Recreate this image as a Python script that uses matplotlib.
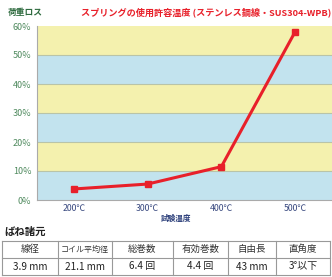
import matplotlib
matplotlib.use("Agg")
import matplotlib.pyplot as plt
import numpy as np

plt.rcParams['font.family'] = ['Noto Sans CJK JP', 'DejaVu Sans']

temps = ["200℃", "300℃", "400℃", "500℃"]
loss = [3.8, 5.5, 11.5, 58.0]
yticks = [0, 10, 20, 30, 40, 50, 60]
ytick_labels = ["0%", "10%", "20%", "30%", "40%", "50%", "60%"]
table_header = ["線径", "コイル平均径", "総巻数", "有効巻数", "自由長", "直角度"]
table_values = ["3.9 mm", "21.1 mm", "6.4 回", "4.4 回", "43 mm", "3°以下"]

W, H = 332, 277
fig = plt.figure(figsize=(W/100, H/100), dpi=100)
fig.patch.set_facecolor('white')

ax = fig.add_axes([37/W, 1-200/H, (332-37)/W, (200-26)/H])
blue = '#c2e3ee'
yellow = '#f4f1ae'
for i in range(6):
    ax.axhspan(yticks[i], yticks[i+1], color=(blue if i % 2 == 0 else yellow), zorder=0, lw=0)
for v in yticks[1:-1]:
    ax.axhline(v, color='#b9c4a8', lw=0.8, zorder=1)

x = np.arange(len(temps))
ax.plot(x, loss, color='#e8202a', lw=2.2, marker='s', ms=4, zorder=3)
ax.set_xlim(-0.5, 3.5)
ax.set_ylim(0, 60)
ax.set_yticks(yticks)
ax.set_yticklabels(ytick_labels, fontsize=6.5, color='#4f8a5e')
ax.set_xticks(x)
ax.set_xticklabels(temps, fontsize=6.3, color='#3a4a80')
ax.tick_params(axis='y', length=0, pad=4)
ax.tick_params(axis='x', length=0, pad=3)
for s in ['top', 'right']:
    ax.spines[s].set_visible(False)
ax.spines['left'].set_color('#aaaaaa')
ax.spines['bottom'].set_color('#aaaaaa')
ax.spines['left'].set_linewidth(0.8)
ax.spines['bottom'].set_linewidth(0.8)

fig.text(8/W, 1-12/H, "荷重ロス", fontsize=6.3, color='#2e6b3f', fontweight='bold', va='center', ha='left')
fig.text(331/W, 1-12/H, "スプリングの使用許容温度 (ステンレス鋼線・SUS304-WPB)", fontsize=6.6,
         color='#e8202a', fontweight='bold', va='center', ha='right')
fig.text(176/W, 1-218/H, "試験温度", fontsize=5.5, color='#2c3f7a', fontweight='bold', va='center', ha='center')
fig.text(4/W, 1-232/H, "ばね諸元", fontsize=7.5, color='#222222', fontweight='bold', va='center', ha='left')

tax = fig.add_axes([2/W, 1-275/H, (330-2)/W, (275-241)/H])
tax.set_axis_off()
cols = [0, 56, 110, 171, 226, 274, 328]
cols = [c/328 for c in cols]
for r in range(3):
    yy = r/2
    tax.plot([0, 1], [yy, yy], color='#999999', lw=0.8, clip_on=False)
for c in cols:
    tax.plot([c, c], [0, 1], color='#999999', lw=0.8, clip_on=False)
for i in range(6):
    cx = (cols[i] + cols[i+1]) / 2
    fs = 5.8 if len(table_header[i]) > 4 else 6.8
    tax.text(cx, 0.75, table_header[i], ha='center', va='center', fontsize=fs, color='#333333')
    tax.text(cx, 0.25, table_values[i], ha='center', va='center', fontsize=7.2, color='#222222')
tax.set_xlim(0, 1)
tax.set_ylim(0, 1)

fig.savefig('out.png', dpi=100)
